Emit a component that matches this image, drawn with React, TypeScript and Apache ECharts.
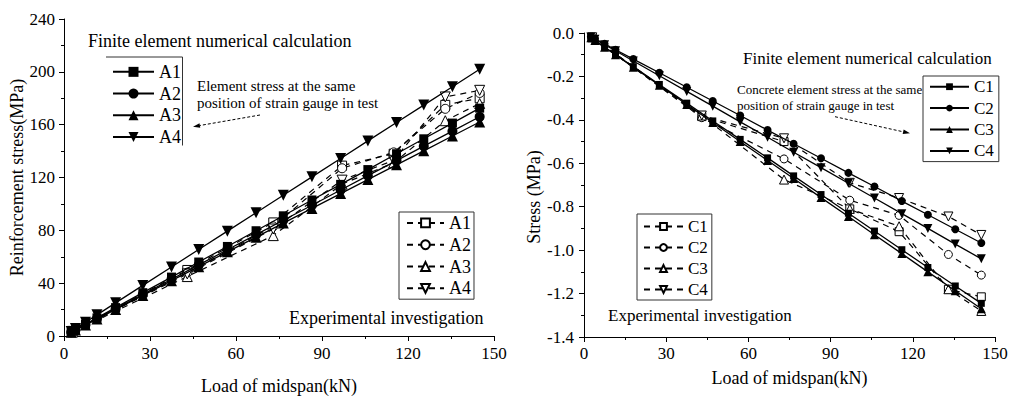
import React, { useEffect, useRef } from "react";
import * as echarts from "echarts";

// Loads (kN)
const loadSim = [2.5, 4, 7.5, 11.5, 18, 27.5, 37.5, 47, 57, 67, 76.5, 86.5, 96.5, 106, 116, 125.5, 135.5, 145];
const loadTest = [3, 43, 73, 97, 115, 133, 145];

// Left chart: reinforcement stress (MPa), finite element
const simA1 = [3, 4.8, 9, 13.7, 21.5, 32.8, 44.6, 56, 67.8, 79.7, 91, 103, 114.8, 126, 138, 149.3, 161.2, 172.5];
const simA2 = [2.9, 4.6, 8.6, 13.2, 20.6, 31.5, 43, 53.8, 65.3, 76.7, 87.6, 99, 110.5, 121.4, 132.8, 143.7, 155.1, 166];
const simA3 = [2.8, 4.5, 8.4, 12.8, 20.1, 30.7, 41.9, 52.5, 63.7, 74.8, 85.5, 96.6, 107.8, 118.4, 129.6, 140.2, 151.4, 162];
const simA4 = [3.5, 5.6, 10.4, 16, 25.1, 38.3, 52.2, 65.5, 79.4, 93.3, 106.6, 120.5, 134.4, 147.7, 161.6, 174.8, 188.7, 202];

// Left chart: experimental
const testA1 = [3.5, 50, 86, 129, 138, 175, 180];
const testA2 = [3.5, 48, 83, 127, 139, 172, 184];
const testA3 = [3, 45, 76, 115, 131, 163, 176];
const testA4 = [3.5, 47, 81, 118, 133, 181, 186];

// Right chart: concrete stress (MPa), finite element
const simC1 = [-0.02, -0.035, -0.065, -0.1, -0.155, -0.237, -0.323, -0.405, -0.49, -0.575, -0.658, -0.744, -0.83, -0.912, -0.998, -1.08, -1.165, -1.245];
const simC2 = [-0.017, -0.027, -0.05, -0.077, -0.12, -0.183, -0.25, -0.313, -0.38, -0.447, -0.51, -0.577, -0.644, -0.707, -0.774, -0.837, -0.904, -0.967];
const simC3 = [-0.022, -0.035, -0.066, -0.1, -0.158, -0.241, -0.329, -0.412, -0.5, -0.587, -0.67, -0.758, -0.845, -0.929, -1.016, -1.1, -1.187, -1.27];
const simC4 = [-0.018, -0.029, -0.054, -0.082, -0.129, -0.197, -0.269, -0.337, -0.409, -0.48, -0.549, -0.62, -0.692, -0.76, -0.832, -0.9, -0.972, -1.04];

// Right chart: experimental
const testC1 = [-0.02, -0.385, -0.5, -0.81, -0.915, -1.18, -1.215];
const testC2 = [-0.02, -0.39, -0.58, -0.77, -0.84, -1.02, -1.115];
const testC3 = [-0.02, -0.38, -0.675, -0.81, -0.89, -1.18, -1.28];
const testC4 = [-0.02, -0.38, -0.485, -0.69, -0.76, -0.845, -0.93];

const xTicksLabel = "Load of midspan(kN)";
const FONT = "Liberation Serif, Times New Roman, serif";

const pairs = (xs: number[], ys: number[]) => xs.map((x, i) => [x, ys[i]]);

type Mk = { symbol: string; rotate?: number; size: number };
const mkSquare = (s: number): Mk => ({ symbol: "rect", size: s });
const mkCircle = (s: number): Mk => ({ symbol: "circle", size: s });
const mkUp = (s: number): Mk => ({ symbol: "triangle", size: s });
const mkDown = (s: number): Mk => ({ symbol: "triangle", rotate: 180, size: s });

function simSeries(name: string, xs: number[], ys: number[], mk: Mk, gi: number) {
  return {
    type: "line",
    name,
    xAxisIndex: gi,
    yAxisIndex: gi,
    data: pairs(xs, ys),
    symbol: mk.symbol,
    symbolRotate: mk.rotate || 0,
    symbolSize: mk.size,
    showAllSymbol: true,
    lineStyle: { color: "#000", width: 1.3, type: "solid" },
    itemStyle: { color: "#000", borderColor: "#000", borderWidth: 0 },
    z: 3,
  };
}

function testSeries(name: string, xs: number[], ys: number[], mk: Mk, gi: number) {
  return {
    type: "line",
    name,
    xAxisIndex: gi,
    yAxisIndex: gi,
    data: pairs(xs, ys),
    symbol: mk.symbol,
    symbolRotate: mk.rotate || 0,
    symbolSize: mk.size,
    showAllSymbol: true,
    lineStyle: { color: "#000", width: 1.2, type: [6, 5] },
    itemStyle: { color: "#fff", borderColor: "#000", borderWidth: 1 },
    z: 2,
  };
}

function arrow(x1: number, y1: number, x2: number, y2: number) {
  const dx = x2 - x1;
  const dy = y2 - y1;
  const L = Math.sqrt(dx * dx + dy * dy);
  const ux = dx / L;
  const uy = dy / L;
  const bx = x2 - ux * 7;
  const by = y2 - uy * 7;
  const nx = -uy * 2.3;
  const ny = ux * 2.3;
  return [
    {
      type: "line",
      shape: { x1, y1, x2: bx, y2: by },
      style: { stroke: "#000", lineWidth: 1, lineDash: [3, 2] },
      silent: true,
    },
    {
      type: "polygon",
      shape: { points: [[x2, y2], [bx + nx, by + ny], [bx - nx, by - ny]] },
      style: { fill: "#000" },
      silent: true,
    },
  ];
}

function txt(text: string, x: number, y: number, size: number) {
  return {
    type: "text",
    x,
    y,
    silent: true,
    style: { text, fontFamily: FONT, fontSize: size, fill: "#000", textVerticalAlign: "middle", verticalAlign: "middle" },
  };
}

const axisCommon = {
  axisLine: { show: true, onZero: false, lineStyle: { color: "#000", width: 1 } },
  axisTick: { show: true, length: 5, lineStyle: { color: "#000", width: 1 } },
  minorTick: { show: true, splitNumber: 2, length: 3, lineStyle: { color: "#000", width: 1 } },
  splitLine: { show: false },
  minorSplitLine: { show: false },
};

export default function App() {
  const ref = useRef<HTMLDivElement>(null);
  useEffect(() => {
    document.body.style.margin = "0";
    const chart = echarts.init(ref.current!, null, { renderer: "svg" });
    const legendText = { fontFamily: FONT, fontSize: 17, color: "#000" };
    const option: any = {
      animation: false,
      backgroundColor: "#fff",
      grid: [
        { left: 64, top: 19, width: 430, height: 317, outerBoundsMode: "none", containLabel: false },
        { left: 584, top: 33, width: 411, height: 304, outerBoundsMode: "none", containLabel: false },
      ],
      xAxis: [
        {
          ...axisCommon,
          gridIndex: 0,
          type: "value",
          min: 0,
          max: 150,
          interval: 30,
          name: xTicksLabel,
          nameLocation: "middle",
          nameGap: 41,
          nameTextStyle: { fontFamily: FONT, fontSize: 18, color: "#000" },
          axisLabel: { fontFamily: FONT, fontSize: 17, color: "#000", margin: 9 },
        },
        {
          ...axisCommon,
          gridIndex: 1,
          type: "value",
          min: 0,
          max: 150,
          interval: 30,
          name: xTicksLabel,
          nameLocation: "middle",
          nameGap: 32,
          nameTextStyle: { fontFamily: FONT, fontSize: 18, color: "#000" },
          axisLabel: { fontFamily: FONT, fontSize: 17, color: "#000", margin: 8 },
        },
      ],
      yAxis: [
        {
          ...axisCommon,
          gridIndex: 0,
          type: "value",
          min: 0,
          max: 240,
          interval: 40,
          name: "Reinforcement stress(MPa)",
          nameLocation: "middle",
          nameGap: 30,
          nameTextStyle: { fontFamily: FONT, fontSize: 18, color: "#000" },
          axisLabel: { fontFamily: FONT, fontSize: 17, color: "#000", margin: 9 },
        },
        {
          ...axisCommon,
          gridIndex: 1,
          type: "value",
          min: -1.4,
          max: 0,
          interval: 0.2,
          name: "Stress (MPa)",
          nameLocation: "middle",
          nameGap: 40,
          nameTextStyle: { fontFamily: FONT, fontSize: 18, color: "#000", padding: [0, 24, 0, 0] },
          axisLabel: {
            fontFamily: FONT,
            fontSize: 17,
            color: "#000",
            margin: 10,
            formatter: (v: number) => (Math.abs(v) < 1e-9 ? "0.0" : v.toFixed(1)),
          },
        },
      ],
      legend: [
        {
          data: ["A1", "A2", "A3", "A4"],
          orient: "vertical",
          left: 112,
          top: 61,
          padding: 0,
          itemWidth: 41,
          itemHeight: 12.5,
          itemGap: 0,
          itemTextGap: 4,
          selectedMode: false,
          textStyle: { ...legendText, fontSize: 18, lineHeight: 21.7 },
        },
        {
          data: ["A1 test", "A2 test", "A3 test", "A4 test"],
          formatter: (n: string) => n.split(" ")[0],
          orient: "vertical",
          left: 399,
          top: 212,
          padding: [0, 3, 0, 7],
          borderColor: "#333",
          borderWidth: 1,
          itemWidth: 37,
          itemHeight: 11,
          itemGap: 0,
          itemTextGap: 8,
          selectedMode: false,
          textStyle: { ...legendText, fontSize: 18, lineHeight: 21.8 },
        },
        {
          data: ["C1", "C2", "C3", "C4"],
          orient: "vertical",
          left: 923,
          top: 76,
          padding: [0, 5, 0, 6],
          borderColor: "#333",
          borderWidth: 1,
          itemWidth: 39,
          itemHeight: 8.5,
          itemGap: 0,
          itemTextGap: 2,
          selectedMode: false,
          textStyle: { ...legendText, lineHeight: 21.4 },
        },
        {
          data: ["C1 test", "C2 test", "C3 test", "C4 test"],
          formatter: (n: string) => n.split(" ")[0],
          orient: "vertical",
          left: 637,
          top: 214,
          padding: [2, 4, 0, 6],
          borderColor: "#333",
          borderWidth: 1,
          itemWidth: 39,
          itemHeight: 8.5,
          itemGap: 0,
          itemTextGap: 3,
          selectedMode: false,
          textStyle: { ...legendText, lineHeight: 21 },
        },
      ],
      series: [
        testSeries("A1 test", loadTest, testA1, mkSquare(9), 0),
        testSeries("A2 test", loadTest, testA2, mkCircle(9), 0),
        testSeries("A3 test", loadTest, testA3, mkUp(10), 0),
        testSeries("A4 test", loadTest, testA4, mkDown(10), 0),
        simSeries("A1", loadSim, simA1, mkSquare(9), 0),
        simSeries("A2", loadSim, simA2, mkCircle(10), 0),
        simSeries("A3", loadSim, simA3, mkUp(11), 0),
        simSeries("A4", loadSim, simA4, mkDown(11), 0),
        testSeries("C1 test", loadTest, testC1, mkSquare(8), 1),
        testSeries("C2 test", loadTest, testC2, mkCircle(8), 1),
        testSeries("C3 test", loadTest, testC3, mkUp(9), 1),
        testSeries("C4 test", loadTest, testC4, mkDown(9), 1),
        simSeries("C1", loadSim, simC1, mkSquare(7), 1),
        simSeries("C2", loadSim, simC2, mkCircle(8), 1),
        simSeries("C3", loadSim, simC3, mkUp(9), 1),
        simSeries("C4", loadSim, simC4, mkDown(9), 1),
      ],
      graphic: [
        txt("Finite element numerical calculation", 88, 41, 18),
        txt("Element stress at the same", 197, 86, 15),
        txt("position of strain gauge in test", 197, 103, 15),
        txt("Experimental investigation", 289, 318, 18),
        txt("Finite element numerical calculation", 743, 58, 17),
        txt("Concrete element stress at the same", 737, 89, 13),
        txt("position of strain gauge in test", 737, 105, 13),
        txt("Experimental investigation", 608, 315, 17),
        {
          type: "polyline",
          silent: true,
          shape: { points: [[106, 57], [182.5, 57], [182.5, 145.5]] },
          style: { stroke: "#333", lineWidth: 1, fill: null },
        },
        ...arrow(260, 115, 193, 126.7),
        ...arrow(835, 116.7, 910, 133.3),
      ],
    };
    chart.setOption(option);
    return () => chart.dispose();
  }, []);
  return <div ref={ref} style={{ width: 1019, height: 396 }} />;
}
